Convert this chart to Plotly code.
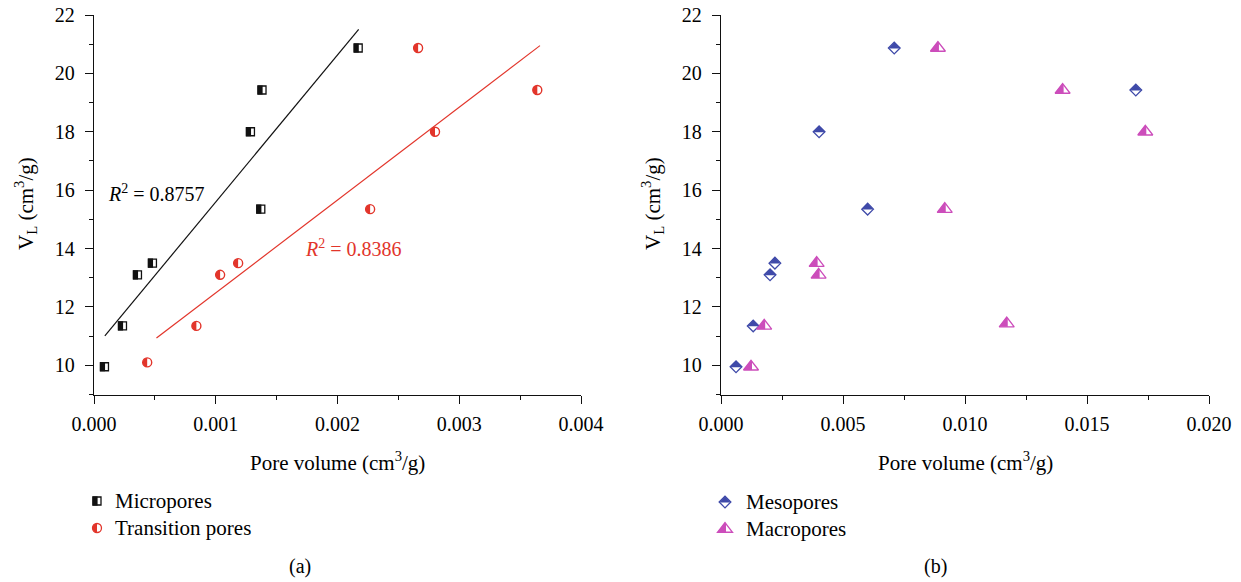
import numpy as np
import plotly.graph_objects as go

W, H = 1241, 582

# ---------------- data ----------------
micro_x = [0.000086, 0.000234, 0.000357, 0.000480, 0.001285, 0.001380, 0.001370, 0.002170]
micro_y = [9.95, 11.35, 13.10, 13.50, 18.00, 19.43, 15.35, 20.87]

trans_x = [0.000437, 0.000841, 0.001036, 0.001184, 0.002801, 0.003641, 0.002268, 0.002662]
trans_y = [10.10, 11.35, 13.10, 13.50, 18.00, 19.43, 15.35, 20.87]

meso_x = [0.000615, 0.00132, 0.00201, 0.00221, 0.00402, 0.01700, 0.00601, 0.00710]
meso_y = [9.95, 11.35, 13.10, 13.50, 18.00, 19.43, 15.35, 20.87]

macro_x = [0.00123, 0.00177, 0.00400, 0.00392, 0.01739, 0.01400, 0.00917, 0.00889, 0.01171]
macro_y = [9.95, 11.35, 13.10, 13.50, 18.00, 19.43, 15.35, 20.87, 11.43]

micro_fit_range = [0.000089, 0.002174]
trans_fit_range = [0.000513, 0.003663]
r2_micro = "0.8757"
r2_trans = "0.8386"

y_ticks = [10, 12, 14, 16, 18, 20, 22]
xa_ticks = [0.000, 0.001, 0.002, 0.003, 0.004]
xb_ticks = [0.000, 0.005, 0.010, 0.015, 0.020]

# ---------------- styles ----------------
FONT = "Liberation Serif"
BLACK = "#111111"
RED = "#e2352b"
BLUE = "#3f4aa9"
MAGENTA = "#cc4dbb"

fig = go.Figure()

# fit lines
for xs, ys, rng, col in [(micro_x, micro_y, micro_fit_range, BLACK),
                         (trans_x, trans_y, trans_fit_range, RED)]:
    k, b = np.polyfit(xs, ys, 1)
    fx = np.array(rng)
    fig.add_trace(go.Scatter(x=fx, y=k * fx + b, mode="lines",
                             line=dict(color=col, width=1.2),
                             showlegend=False, hoverinfo="skip",
                             xaxis="x", yaxis="y"))

# markers (outline + white fill); half fills added as pixel-sized shapes
fig.add_trace(go.Scatter(x=micro_x, y=micro_y, mode="markers", name="Micropores",
                         marker=dict(symbol="square", size=8, color="white",
                                     line=dict(color=BLACK, width=1.3)),
                         showlegend=False, xaxis="x", yaxis="y"))
fig.add_trace(go.Scatter(x=trans_x, y=trans_y, mode="markers", name="Transition pores",
                         marker=dict(symbol="circle", size=9, color="white",
                                     line=dict(color=RED, width=1.4)),
                         showlegend=False, xaxis="x", yaxis="y"))
fig.add_trace(go.Scatter(x=meso_x, y=meso_y, mode="markers", name="Mesopores",
                         marker=dict(symbol="diamond", size=9, color="white",
                                     line=dict(color=BLUE, width=1.3)),
                         showlegend=False, xaxis="x2", yaxis="y2"))
fig.add_trace(go.Scatter(x=macro_x, y=macro_y, mode="markers", name="Macropores",
                         marker=dict(symbol="triangle-up", size=13, color="white",
                                     line=dict(color=MAGENTA, width=1.3)),
                         showlegend=False, xaxis="x2", yaxis="y2"))

# ----- half-fill geometry (pixel offsets, y up) -----
K = 0.5523
r = 4.5
HALF_CIRCLE = (f"M 0,{r} C {-K*r},{r} {-r},{K*r} {-r},0 "
               f"C {-r},{-K*r} {-K*r},{-r} 0,{-r} Z")
FULL_CIRCLE = (f"M 0,{r} C {-K*r},{r} {-r},{K*r} {-r},0 "
               f"C {-r},{-K*r} {-K*r},{-r} 0,{-r} "
               f"C {K*r},{-r} {r},{-K*r} {r},0 C {r},{K*r} {K*r},{r} 0,{r} Z")
dd = 5.85
HALF_DIAMOND = f"M {-dd},-0.4 L 0,{dd} L {dd},-0.4 Z"
FULL_DIAMOND = f"M {-dd},0 L 0,{dd} L {dd},0 L 0,{-dd} Z"
rt, r2, rs = 7.51, 3.25, 6.5
HALF_TRI = f"M {-rt},{-r2} L 1,{-r2} L 1,5.2 L 0,{rs} Z"
FULL_TRI = f"M {-rt},{-r2} L {rt},{-r2} L 0,{rs} Z"


def half_shape(kind, ax, ay, xref, yref, col):
    base = dict(xref=xref, yref=yref, xsizemode="pixel", ysizemode="pixel",
                xanchor=ax, yanchor=ay, line=dict(width=0), fillcolor=col,
                layer="above")
    if kind == "square":
        return dict(type="rect", x0=-4.6, x1=0.6, y0=-4.6, y1=4.6, **base)
    path = {"circle": HALF_CIRCLE, "diamond": HALF_DIAMOND, "tri": HALF_TRI}[kind]
    return dict(type="path", path=path, **base)


shapes = []
for xs, ys, kind, col, xr, yr in [(micro_x, micro_y, "square", BLACK, "x", "y"),
                                  (trans_x, trans_y, "circle", RED, "x", "y"),
                                  (meso_x, meso_y, "diamond", BLUE, "x2", "y2"),
                                  (macro_x, macro_y, "tri", MAGENTA, "x2", "y2")]:
    for xv, yv in zip(xs, ys):
        shapes.append(half_shape(kind, xv, yv, xr, yr, col))


def px(xp):
    return xp / W


def py(yp):
    return 1 - yp / H


def legend_marker(kind, xp, yp, col):
    base = dict(xref="paper", yref="paper", xsizemode="pixel", ysizemode="pixel",
                xanchor=px(xp), yanchor=py(yp), layer="above")
    out = []
    if kind == "square":
        out.append(dict(type="rect", x0=-4, x1=4, y0=-4, y1=4, fillcolor="white",
                        line=dict(color=col, width=1.3), **base))
    else:
        path = {"circle": FULL_CIRCLE, "diamond": FULL_DIAMOND, "tri": FULL_TRI}[kind]
        out.append(dict(type="path", path=path, fillcolor="white",
                        line=dict(color=col, width=1.3), **base))
    out.append(half_shape(kind, px(xp), py(yp), "paper", "paper", col))
    return out


shapes += legend_marker("square", 97, 501, BLACK)
shapes += legend_marker("circle", 97, 528, RED)
shapes += legend_marker("diamond", 725, 502, BLUE)
shapes += legend_marker("tri", 725, 529, MAGENTA)

annotations = []


def ann(text, xp, yp, size=21, color="black", xanchor="center", angle=0):
    annotations.append(dict(text=text, x=px(xp), y=py(yp), xref="paper", yref="paper",
                            showarrow=False, xanchor=xanchor, yanchor="middle",
                            textangle=angle, font=dict(family=FONT, size=size, color=color)))


ann("Pore volume (cm<sup>3</sup>/g)", 337.5, 461)
ann("Pore volume (cm<sup>3</sup>/g)", 965, 461)
ann("V<sub>L</sub> (cm<sup>3</sup>/g)", 25, 204, angle=-90)
ann("V<sub>L</sub> (cm<sup>3</sup>/g)", 652, 204, angle=-90)
ann("Micropores", 113, 501, xanchor="left")
ann("Transition pores", 113, 528, xanchor="left")
ann("Mesopores", 744, 502, xanchor="left")
ann("Macropores", 744, 529, xanchor="left")
ann("(a)", 300, 566, size=20)
ann("(b)", 935, 566, size=20)
ann(f"<i>R</i><sup>2</sup> = {r2_micro}", 106, 193, size=20, xanchor="left")
ann(f"<i>R</i><sup>2</sup> = {r2_trans}", 303, 248, size=20, xanchor="left", color=RED)

axis_common = dict(showline=True, linecolor=BLACK, linewidth=1.3, ticks="outside",
                   ticklen=8, tickwidth=1.3, tickcolor=BLACK, showgrid=False,
                   zeroline=False, tickfont=dict(family=FONT, size=20, color="black"),
                   automargin=False, fixedrange=True, ticklabeloverflow="allow")

ydom = [py(394.5), py(15)]
minor_y = dict(dtick=1, tick0=0, ticks="outside", ticklen=4, tickwidth=1.3, tickcolor=BLACK)
fig.update_layout(
    width=W, height=H,
    margin=dict(l=0, r=0, t=0, b=0),
    paper_bgcolor="white", plot_bgcolor="white",
    showlegend=False,
    xaxis=dict(domain=[px(94), px(581)], range=[0, 0.004], tickvals=xa_ticks,
               tickformat=".3f", anchor="y", ticklabelstandoff=3,
               minor=dict(dtick=0.0005, tick0=0, ticks="outside", ticklen=4,
                          tickwidth=1.3, tickcolor=BLACK),
               **axis_common),
    yaxis=dict(domain=ydom, range=[9, 22], tickvals=y_ticks, anchor="x",
               ticklabelstandoff=6, minor=minor_y, **axis_common),
    xaxis2=dict(domain=[px(721), px(1209)], range=[0, 0.020], tickvals=xb_ticks,
                tickformat=".3f", anchor="y2", ticklabelstandoff=3,
                minor=dict(dtick=0.0025, tick0=0, ticks="outside", ticklen=4,
                           tickwidth=1.3, tickcolor=BLACK),
                **axis_common),
    yaxis2=dict(domain=ydom, range=[9, 22], tickvals=y_ticks, anchor="x2",
                ticklabelstandoff=6, minor=minor_y, **axis_common),
    shapes=shapes,
    annotations=annotations,
)

fig.write_html("out.html", config={"displayModeBar": False},
               post_script="document.body.style.margin='0px';")
